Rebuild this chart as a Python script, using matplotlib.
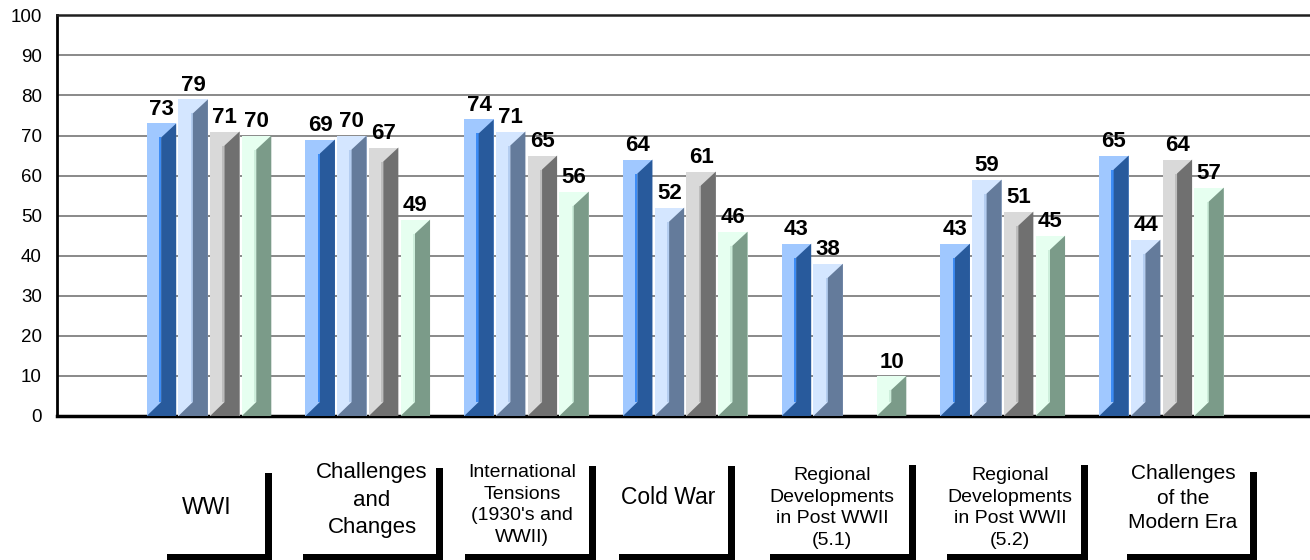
import numpy as np
import matplotlib
matplotlib.use('Agg')
import matplotlib.pyplot as plt
from matplotlib.patches import Polygon, Rectangle

plt.rcParams['font.family'] = ['Liberation Sans', 'DejaVu Sans']

# chart data
categories = ['WWI', 'Challenges\nand\nChanges', 'International\nTensions\n(1930\'s and\nWWII)',
              'Cold War', 'Regional\nDevelopments\nin Post WWII\n(5.1)',
              'Regional\nDevelopments\nin Post WWII\n(5.2)', 'Challenges\nof the\nModern Era']
series_a = [73, 69, 74, 64, 43, 43, 65]
series_b = [79, 70, 71, 52, 38, 59, 44]
series_c = [71, 67, 65, 61, np.nan, 51, 64]
series_d = [70, 49, 56, 46, 10, 45, 57]
all_series = [series_a, series_b, series_c, series_d]

# (light face, bright strip, dark side)
colors = [('#a0c8ff', '#3d8cf5', '#285a9c'),
          ('#d4e6ff', '#b4cdf0', '#647b9b'),
          ('#d9d9d9', '#bdbdbd', '#707070'),
          ('#e6fff0', '#cdeedb', '#7b9b89')]

# layout of the category label boxes, figure pixels:
# text x, text y (center), shadow left, shadow right, shadow top
label_layout = [(207, 507, 167, 272, 473),
                (372, 500, 303, 443, 468),
                (522, 505, 465, 596, 466),
                (668, 498, 619, 735, 466),
                (832, 508, 770, 916, 465),
                (1010, 508, 947, 1088, 465),
                (1183, 498, 1127, 1257, 472)]
label_sizes = [16.5, 16, 14, 16.5, 14, 14, 15]

W, H = 1310, 560
fig = plt.figure(figsize=(W / 100, H / 100), dpi=100)
ax = fig.add_axes([57 / W, 1 - 416 / H, 1 - 57 / W, (416 - 15.3) / H])

px_per_unit = 158.75
ax.set_xlim(-(209 - 57) / px_per_unit, (1310 - 209) / px_per_unit)
ax.set_ylim(0, 100)
y_per_px = 100 / (416 - 15.3)
x_per_px = 1 / px_per_unit

pitch = 31.7 * x_per_px
width = 29.5 * x_per_px
bev_y = 14 * y_per_px
strip = 2.2 * x_per_px

x = np.arange(len(categories))
for k, vals in enumerate(all_series):
    light, bright, dark = colors[k]
    xs = x + (k - 1.5) * pitch
    ax.bar(xs, vals, width=width, color=light, zorder=3, linewidth=0)
    for xc, v in zip(xs, vals):
        if np.isnan(v):
            continue
        l = xc - width / 2
        r = xc + width / 2
        dl = l + 0.49 * width
        d = min(bev_y, v / 2)
        ax.add_patch(Rectangle((dl - strip, d), strip, v - 2 * d, color=bright, lw=0, zorder=4))
        ax.add_patch(Polygon([(dl, v - d), (r, v), (r, 0), (l, 0), (dl, d)],
                             closed=True, color=dark, lw=0, zorder=4))
        ax.annotate(f'{int(v)}', (xc, v), xytext=(0, 6), textcoords='offset points',
                    ha='center', va='baseline', fontsize=16, fontweight='bold', zorder=5)

ax.set_yticks(np.arange(0, 101, 10))
ax.yaxis.grid(True, color='#808080', linewidth=1.3, zorder=0)
ax.set_axisbelow(True)
ax.set_xticks([])
ax.tick_params(axis='y', length=0, labelsize=13.5, pad=11)
ax.spines['right'].set_visible(False)
ax.spines['left'].set_linewidth(2)
ax.spines['bottom'].set_linewidth(2.5)
ax.spines['top'].set_linewidth(1.8)
ax.spines['top'].set_color('#202020')

# category label boxes with shadows
for name, (tx, ty, sl, sr, st), fs in zip(categories, label_layout, label_sizes):
    fig.text(tx / W, 1 - ty / H, name, ha='center', va='center', fontsize=fs,
             linespacing=1.38, multialignment='center')
    fig.patches.append(Rectangle((sr - 7, 0), 7, H - st, transform=None,
                                 color='black', lw=0))
    fig.patches.append(Rectangle((sl, 0), sr - sl, 6, transform=None,
                                 color='black', lw=0))

fig.savefig('out.png', dpi=100)
